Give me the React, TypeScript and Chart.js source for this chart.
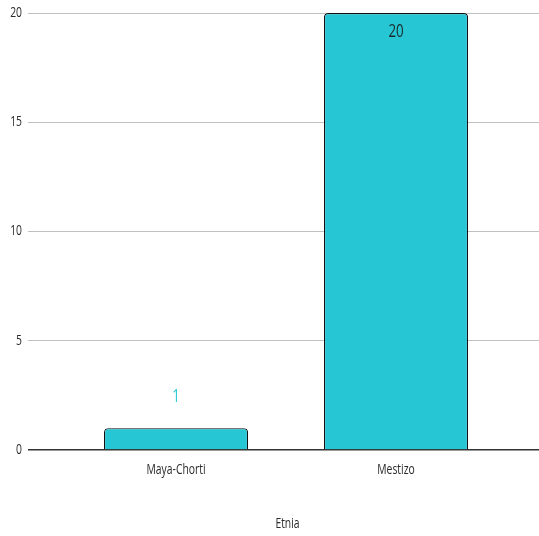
import React, { useEffect, useRef } from "react";
import { Chart, registerables } from "chart.js";

Chart.register(...registerables);

const categories: string[] = ["Maya-Chorti", "Mestizo"];
const counts: number[] = [1, 20];
const yTicks: number[] = [0, 5, 10, 15, 20];
const axisTitle = "Etnia";

const FONT = "'Open Sans', 'DejaVu Sans', sans-serif";
const SQUEEZE = 0.74;
const BAR_COLOR = "#26C6D4";
const TEXT_COLOR = "#2a2a2a";

function drawText(ctx: CanvasRenderingContext2D, text: string, x: number, y: number, align: CanvasTextAlign, size: number, color: string) {
  ctx.save();
  ctx.translate(x, y);
  ctx.scale(SQUEEZE, 1);
  ctx.font = `${size}px ${FONT}`;
  ctx.fillStyle = color;
  ctx.textAlign = align;
  ctx.textBaseline = "middle";
  ctx.fillText(text, 0, 0);
  ctx.restore();
}

const textPlugin = {
  id: "squeezedText",
  afterDraw(chart: any) {
    const ctx = chart.ctx;
    const xs = chart.scales.x;
    const ys = chart.scales.y;
    const area = chart.chartArea;
    yTicks.forEach((v) => {
      drawText(ctx, String(v), area.left - 6, ys.getPixelForValue(v), "right", 14, TEXT_COLOR);
    });
    categories.forEach((c, i) => {
      drawText(ctx, c, xs.getPixelForValue(i), area.bottom + 20, "center", 14, TEXT_COLOR);
    });
    drawText(ctx, axisTitle, (area.left + area.right) / 2 + 4, area.bottom + 74, "center", 14, TEXT_COLOR);
    const meta = chart.getDatasetMeta(0);
    meta.data.forEach((bar: any, i: number) => {
      const v = counts[i];
      const h = bar.base - bar.y;
      if (h < 40) {
        drawText(ctx, String(v), bar.x, bar.y - 31, "center", 18, BAR_COLOR);
      } else {
        drawText(ctx, String(v), bar.x, bar.y + 19, "center", 18, "#1a2a2a");
      }
    });
  },
};

export default function App() {
  const ref = useRef<HTMLCanvasElement | null>(null);
  useEffect(() => {
    document.body.style.margin = "0";
    const canvas = ref.current!;
    const chart = new Chart(canvas, {
      type: "bar",
      data: {
        datasets: [
          {
            data: counts.map((c, i) => ({ x: i, y: c })),
            backgroundColor: BAR_COLOR,
            borderColor: "#111",
            borderWidth: 1.2,
            borderRadius: 4,
            borderSkipped: "bottom",
            categoryPercentage: 1,
            barPercentage: 0.655,
          } as any,
        ],
      },
      options: {
        animation: false,
        responsive: false,
        maintainAspectRatio: false,
        layout: { padding: { top: 13, right: 0, left: 0, bottom: 0 } },
        plugins: { legend: { display: false }, tooltip: { enabled: false } },
        scales: {
          x: {
            type: "linear",
            offset: false,
            min: -0.673,
            max: 1.65,
            grid: { display: false },
            border: { display: false },
            afterBuildTicks: (s: any) => {
              s.ticks = categories.map((_, i) => ({ value: i }));
            },
            afterFit: (s: any) => {
              s.height = 86;
            },
            ticks: { display: false },
            title: { display: false, text: axisTitle },
          },
          y: {
            min: 0,
            max: 20,
            afterBuildTicks: (s: any) => {
              s.ticks = yTicks.map((v) => ({ value: v }));
            },
            afterFit: (s: any) => {
              s.width = 28;
            },
            border: { display: false },
            grid: {
              drawTicks: false,
              color: (c: any) => (c.tick && c.tick.value === 0 ? "#333" : "#c0c0c0"),
              lineWidth: (c: any) => (c.tick && c.tick.value === 0 ? 1.5 : 1),
            },
            ticks: { display: false },
          },
        },
      },
      plugins: [textPlugin],
    });
    return () => chart.destroy();
  }, []);
  return <canvas ref={ref} width={539} height={536} style={{ display: "block" }} />;
}
